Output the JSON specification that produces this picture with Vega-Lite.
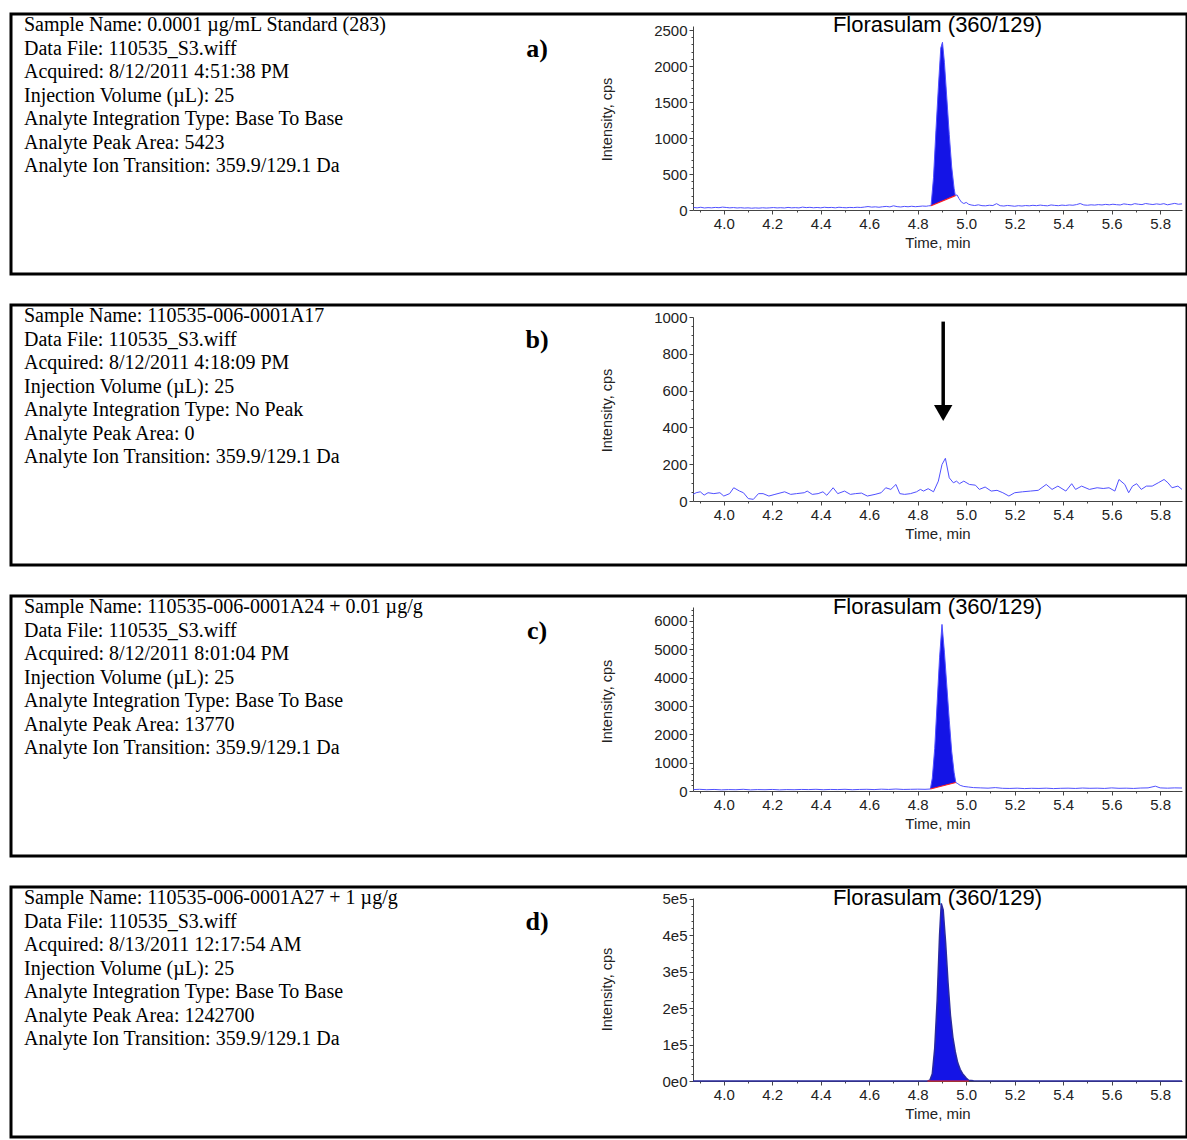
{
"$schema": "https://vega.github.io/schema/vega-lite/v6.json",
"padding": {"left": 9, "top": 12, "right": 1, "bottom": 0},
"background": "white",
"spacing": 27,
"config": {
  "view": {"stroke": "#000", "strokeWidth": 3},
  "axis": {"grid": false, "labelFont": "Liberation Sans", "labelFontSize": 15, "labelColor": "#222", "titleFont": "Liberation Sans", "titleFontSize": 15, "titleFontWeight": "normal", "titleColor": "#222", "domainColor": "#444", "tickColor": "#444", "labelPadding": 2, "labelFlush": false, "labelOverlap": false}
},
"datasets": {
  "txt": [
    {"p": "a", "kind": "info", "line": 1, "text": "Sample Name: 0.0001 µg/mL Standard (283)"},
    {"p": "a", "kind": "info", "line": 2, "text": "Data File: 110535_S3.wiff"},
    {"p": "a", "kind": "info", "line": 3, "text": "Acquired: 8/12/2011 4:51:38 PM"},
    {"p": "a", "kind": "info", "line": 4, "text": "Injection Volume (µL): 25"},
    {"p": "a", "kind": "info", "line": 5, "text": "Analyte Integration Type: Base To Base"},
    {"p": "a", "kind": "info", "line": 6, "text": "Analyte Peak Area: 5423"},
    {"p": "a", "kind": "info", "line": 7, "text": "Analyte Ion Transition: 359.9/129.1 Da"},
    {"p": "a", "kind": "label", "line": 2, "text": "a)"},
    {"p": "a", "kind": "title", "line": 1, "text": "Florasulam (360/129)"},
    {"p": "b", "kind": "info", "line": 1, "text": "Sample Name: 110535-006-0001A17"},
    {"p": "b", "kind": "info", "line": 2, "text": "Data File: 110535_S3.wiff"},
    {"p": "b", "kind": "info", "line": 3, "text": "Acquired: 8/12/2011 4:18:09 PM"},
    {"p": "b", "kind": "info", "line": 4, "text": "Injection Volume (µL): 25"},
    {"p": "b", "kind": "info", "line": 5, "text": "Analyte Integration Type: No Peak"},
    {"p": "b", "kind": "info", "line": 6, "text": "Analyte Peak Area: 0"},
    {"p": "b", "kind": "info", "line": 7, "text": "Analyte Ion Transition: 359.9/129.1 Da"},
    {"p": "b", "kind": "label", "line": 2, "text": "b)"},
    {"p": "c", "kind": "info", "line": 1, "text": "Sample Name: 110535-006-0001A24 + 0.01 µg/g"},
    {"p": "c", "kind": "info", "line": 2, "text": "Data File: 110535_S3.wiff"},
    {"p": "c", "kind": "info", "line": 3, "text": "Acquired: 8/12/2011 8:01:04 PM"},
    {"p": "c", "kind": "info", "line": 4, "text": "Injection Volume (µL): 25"},
    {"p": "c", "kind": "info", "line": 5, "text": "Analyte Integration Type: Base To Base"},
    {"p": "c", "kind": "info", "line": 6, "text": "Analyte Peak Area: 13770"},
    {"p": "c", "kind": "info", "line": 7, "text": "Analyte Ion Transition: 359.9/129.1 Da"},
    {"p": "c", "kind": "label", "line": 2, "text": "c)"},
    {"p": "c", "kind": "title", "line": 1, "text": "Florasulam (360/129)"},
    {"p": "d", "kind": "info", "line": 1, "text": "Sample Name: 110535-006-0001A27 + 1 µg/g"},
    {"p": "d", "kind": "info", "line": 2, "text": "Data File: 110535_S3.wiff"},
    {"p": "d", "kind": "info", "line": 3, "text": "Acquired: 8/13/2011 12:17:54 AM"},
    {"p": "d", "kind": "info", "line": 4, "text": "Injection Volume (µL): 25"},
    {"p": "d", "kind": "info", "line": 5, "text": "Analyte Integration Type: Base To Base"},
    {"p": "d", "kind": "info", "line": 6, "text": "Analyte Peak Area: 1242700"},
    {"p": "d", "kind": "info", "line": 7, "text": "Analyte Ion Transition: 359.9/129.1 Da"},
    {"p": "d", "kind": "label", "line": 2, "text": "d)"},
    {"p": "d", "kind": "title", "line": 1, "text": "Florasulam (360/129)"}
  ],
  "trace": [
    {"p":"a","t":3.875,"v":35},{"p":"a","t":3.89,"v":30},{"p":"a","t":3.905,"v":38},{"p":"a","t":3.92,"v":28},{"p":"a","t":3.935,"v":33},{"p":"a","t":3.95,"v":30},{"p":"a","t":3.965,"v":36},{"p":"a","t":3.98,"v":32},{"p":"a","t":3.995,"v":40},{"p":"a","t":4.01,"v":35},{"p":"a","t":4.025,"v":30},{"p":"a","t":4.04,"v":34},{"p":"a","t":4.055,"v":28},{"p":"a","t":4.07,"v":32},{"p":"a","t":4.085,"v":27},{"p":"a","t":4.1,"v":30},{"p":"a","t":4.115,"v":25},{"p":"a","t":4.13,"v":29},{"p":"a","t":4.145,"v":26},{"p":"a","t":4.16,"v":31},{"p":"a","t":4.175,"v":27},{"p":"a","t":4.19,"v":30},{"p":"a","t":4.205,"v":34},{"p":"a","t":4.22,"v":29},{"p":"a","t":4.235,"v":32},{"p":"a","t":4.25,"v":28},{"p":"a","t":4.265,"v":36},{"p":"a","t":4.28,"v":30},{"p":"a","t":4.295,"v":33},{"p":"a","t":4.31,"v":29},{"p":"a","t":4.325,"v":40},{"p":"a","t":4.34,"v":33},{"p":"a","t":4.355,"v":37},{"p":"a","t":4.37,"v":31},{"p":"a","t":4.385,"v":35},{"p":"a","t":4.4,"v":30},{"p":"a","t":4.415,"v":38},{"p":"a","t":4.43,"v":33},{"p":"a","t":4.445,"v":36},{"p":"a","t":4.46,"v":30},{"p":"a","t":4.475,"v":38},{"p":"a","t":4.49,"v":34},{"p":"a","t":4.505,"v":31},{"p":"a","t":4.52,"v":36},{"p":"a","t":4.535,"v":33},{"p":"a","t":4.55,"v":38},{"p":"a","t":4.565,"v":35},{"p":"a","t":4.58,"v":41},{"p":"a","t":4.595,"v":48},{"p":"a","t":4.61,"v":40},{"p":"a","t":4.625,"v":44},{"p":"a","t":4.64,"v":38},{"p":"a","t":4.655,"v":45},{"p":"a","t":4.67,"v":50},{"p":"a","t":4.685,"v":43},{"p":"a","t":4.7,"v":58},{"p":"a","t":4.715,"v":47},{"p":"a","t":4.73,"v":42},{"p":"a","t":4.745,"v":50},{"p":"a","t":4.76,"v":45},{"p":"a","t":4.775,"v":52},{"p":"a","t":4.79,"v":46},{"p":"a","t":4.805,"v":50},{"p":"a","t":4.82,"v":55},{"p":"a","t":4.835,"v":52},{"p":"a","t":4.845,"v":58},
    {"p":"a","t":4.855,"v":60,"base":60},{"p":"a","t":4.865,"v":450,"base":74},{"p":"a","t":4.875,"v":1100,"base":88},{"p":"a","t":4.885,"v":1700,"base":102},{"p":"a","t":4.895,"v":2250,"base":116},{"p":"a","t":4.902,"v":2330,"base":126},{"p":"a","t":4.91,"v":2050,"base":137},{"p":"a","t":4.92,"v":1550,"base":151},{"p":"a","t":4.93,"v":1050,"base":165},{"p":"a","t":4.94,"v":600,"base":179},{"p":"a","t":4.95,"v":300,"base":193},{"p":"a","t":4.955,"v":200,"base":200},
    {"p":"a","t":4.962,"v":210},{"p":"a","t":4.97,"v":160},{"p":"a","t":4.98,"v":110},{"p":"a","t":4.99,"v":90},{"p":"a","t":5.0,"v":105},{"p":"a","t":5.01,"v":80},{"p":"a","t":5.02,"v":70},{"p":"a","t":5.035,"v":62},{"p":"a","t":5.05,"v":72},{"p":"a","t":5.065,"v":60},{"p":"a","t":5.08,"v":58},{"p":"a","t":5.095,"v":66},{"p":"a","t":5.11,"v":62},{"p":"a","t":5.125,"v":88},{"p":"a","t":5.14,"v":60},{"p":"a","t":5.155,"v":55},{"p":"a","t":5.17,"v":63},{"p":"a","t":5.185,"v":58},{"p":"a","t":5.2,"v":52},{"p":"a","t":5.215,"v":60},{"p":"a","t":5.23,"v":55},{"p":"a","t":5.245,"v":62},{"p":"a","t":5.26,"v":58},{"p":"a","t":5.275,"v":65},{"p":"a","t":5.29,"v":60},{"p":"a","t":5.305,"v":68},{"p":"a","t":5.32,"v":62},{"p":"a","t":5.335,"v":58},{"p":"a","t":5.35,"v":70},{"p":"a","t":5.365,"v":64},{"p":"a","t":5.38,"v":60},{"p":"a","t":5.395,"v":68},{"p":"a","t":5.41,"v":63},{"p":"a","t":5.425,"v":70},{"p":"a","t":5.44,"v":66},{"p":"a","t":5.455,"v":75},{"p":"a","t":5.47,"v":90},{"p":"a","t":5.485,"v":70},{"p":"a","t":5.5,"v":66},{"p":"a","t":5.515,"v":72},{"p":"a","t":5.53,"v":68},{"p":"a","t":5.545,"v":75},{"p":"a","t":5.56,"v":70},{"p":"a","t":5.575,"v":78},{"p":"a","t":5.59,"v":72},{"p":"a","t":5.605,"v":80},{"p":"a","t":5.62,"v":74},{"p":"a","t":5.635,"v":70},{"p":"a","t":5.65,"v":85},{"p":"a","t":5.665,"v":78},{"p":"a","t":5.68,"v":72},{"p":"a","t":5.695,"v":88},{"p":"a","t":5.71,"v":80},{"p":"a","t":5.725,"v":75},{"p":"a","t":5.74,"v":90},{"p":"a","t":5.755,"v":82},{"p":"a","t":5.77,"v":76},{"p":"a","t":5.785,"v":85},{"p":"a","t":5.8,"v":78},{"p":"a","t":5.815,"v":88},{"p":"a","t":5.83,"v":72},{"p":"a","t":5.845,"v":82},{"p":"a","t":5.86,"v":92},{"p":"a","t":5.875,"v":80},{"p":"a","t":5.89,"v":85},

    {"p":"b","t":3.873,"v":36},{"p":"b","t":3.886,"v":45},{"p":"b","t":3.903,"v":50},{"p":"b","t":3.919,"v":32},{"p":"b","t":3.935,"v":45},{"p":"b","t":3.959,"v":40},{"p":"b","t":3.984,"v":45},{"p":"b","t":4.0,"v":27},{"p":"b","t":4.024,"v":40},{"p":"b","t":4.041,"v":72},{"p":"b","t":4.065,"v":54},{"p":"b","t":4.081,"v":45},{"p":"b","t":4.101,"v":13},{"p":"b","t":4.122,"v":9},{"p":"b","t":4.143,"v":40},{"p":"b","t":4.162,"v":40},{"p":"b","t":4.186,"v":27},{"p":"b","t":4.211,"v":36},{"p":"b","t":4.251,"v":50},{"p":"b","t":4.276,"v":36},{"p":"b","t":4.3,"v":40},{"p":"b","t":4.332,"v":45},{"p":"b","t":4.344,"v":54},{"p":"b","t":4.365,"v":36},{"p":"b","t":4.389,"v":40},{"p":"b","t":4.409,"v":50},{"p":"b","t":4.425,"v":31},{"p":"b","t":4.451,"v":72},{"p":"b","t":4.47,"v":40},{"p":"b","t":4.498,"v":54},{"p":"b","t":4.522,"v":36},{"p":"b","t":4.543,"v":40},{"p":"b","t":4.568,"v":43},{"p":"b","t":4.592,"v":27},{"p":"b","t":4.624,"v":36},{"p":"b","t":4.649,"v":45},{"p":"b","t":4.668,"v":72},{"p":"b","t":4.689,"v":63},{"p":"b","t":4.71,"v":90},{"p":"b","t":4.726,"v":40},{"p":"b","t":4.746,"v":36},{"p":"b","t":4.77,"v":40},{"p":"b","t":4.795,"v":50},{"p":"b","t":4.811,"v":63},{"p":"b","t":4.824,"v":54},{"p":"b","t":4.843,"v":67},{"p":"b","t":4.865,"v":50},{"p":"b","t":4.885,"v":108},{"p":"b","t":4.9,"v":198},{"p":"b","t":4.914,"v":232},{"p":"b","t":4.93,"v":126},{"p":"b","t":4.947,"v":99},{"p":"b","t":4.96,"v":108},{"p":"b","t":4.972,"v":94},{"p":"b","t":4.99,"v":108},{"p":"b","t":5.013,"v":90},{"p":"b","t":5.038,"v":86},{"p":"b","t":5.054,"v":63},{"p":"b","t":5.078,"v":76},{"p":"b","t":5.103,"v":54},{"p":"b","t":5.127,"v":58},{"p":"b","t":5.151,"v":45},{"p":"b","t":5.176,"v":27},{"p":"b","t":5.2,"v":45},{"p":"b","t":5.232,"v":50},{"p":"b","t":5.265,"v":54},{"p":"b","t":5.297,"v":58},{"p":"b","t":5.33,"v":90},{"p":"b","t":5.354,"v":63},{"p":"b","t":5.378,"v":81},{"p":"b","t":5.411,"v":54},{"p":"b","t":5.435,"v":94},{"p":"b","t":5.451,"v":63},{"p":"b","t":5.476,"v":81},{"p":"b","t":5.508,"v":63},{"p":"b","t":5.54,"v":72},{"p":"b","t":5.565,"v":68},{"p":"b","t":5.589,"v":72},{"p":"b","t":5.613,"v":54},{"p":"b","t":5.63,"v":117},{"p":"b","t":5.654,"v":90},{"p":"b","t":5.67,"v":45},{"p":"b","t":5.686,"v":81},{"p":"b","t":5.703,"v":94},{"p":"b","t":5.722,"v":63},{"p":"b","t":5.743,"v":81},{"p":"b","t":5.767,"v":81},{"p":"b","t":5.792,"v":99},{"p":"b","t":5.816,"v":117},{"p":"b","t":5.832,"v":99},{"p":"b","t":5.849,"v":72},{"p":"b","t":5.873,"v":81},{"p":"b","t":5.89,"v":63},

    {"p":"c","t":3.875,"v":50},{"p":"c","t":3.9,"v":60},{"p":"c","t":3.93,"v":45},{"p":"c","t":3.96,"v":55},{"p":"c","t":3.99,"v":40},{"p":"c","t":4.02,"v":50},{"p":"c","t":4.05,"v":45},{"p":"c","t":4.08,"v":60},{"p":"c","t":4.11,"v":40},{"p":"c","t":4.14,"v":50},{"p":"c","t":4.17,"v":45},{"p":"c","t":4.2,"v":55},{"p":"c","t":4.23,"v":40},{"p":"c","t":4.26,"v":50},{"p":"c","t":4.29,"v":45},{"p":"c","t":4.32,"v":55},{"p":"c","t":4.35,"v":50},{"p":"c","t":4.38,"v":60},{"p":"c","t":4.41,"v":45},{"p":"c","t":4.44,"v":55},{"p":"c","t":4.47,"v":50},{"p":"c","t":4.5,"v":60},{"p":"c","t":4.53,"v":45},{"p":"c","t":4.56,"v":55},{"p":"c","t":4.59,"v":60},{"p":"c","t":4.62,"v":50},{"p":"c","t":4.65,"v":65},{"p":"c","t":4.68,"v":55},{"p":"c","t":4.71,"v":70},{"p":"c","t":4.74,"v":55},{"p":"c","t":4.77,"v":60},{"p":"c","t":4.8,"v":65},{"p":"c","t":4.83,"v":60},
    {"p":"c","t":4.852,"v":70,"base":70},{"p":"c","t":4.86,"v":450,"base":88},{"p":"c","t":4.87,"v":1500,"base":109},{"p":"c","t":4.88,"v":3100,"base":131},{"p":"c","t":4.89,"v":4700,"base":153},{"p":"c","t":4.9,"v":5880,"base":175},{"p":"c","t":4.91,"v":4900,"base":197},{"p":"c","t":4.92,"v":3700,"base":219},{"p":"c","t":4.93,"v":2500,"base":241},{"p":"c","t":4.94,"v":1400,"base":263},{"p":"c","t":4.95,"v":650,"base":284},{"p":"c","t":4.957,"v":300,"base":300},
    {"p":"c","t":4.965,"v":260},{"p":"c","t":4.975,"v":200},{"p":"c","t":4.99,"v":160},{"p":"c","t":5.01,"v":140},{"p":"c","t":5.03,"v":120},{"p":"c","t":5.06,"v":110},{"p":"c","t":5.09,"v":100},{"p":"c","t":5.12,"v":120},{"p":"c","t":5.15,"v":95},{"p":"c","t":5.18,"v":90},{"p":"c","t":5.21,"v":100},{"p":"c","t":5.24,"v":85},{"p":"c","t":5.27,"v":95},{"p":"c","t":5.3,"v":90},{"p":"c","t":5.33,"v":100},{"p":"c","t":5.36,"v":85},{"p":"c","t":5.39,"v":95},{"p":"c","t":5.42,"v":100},{"p":"c","t":5.45,"v":90},{"p":"c","t":5.48,"v":105},{"p":"c","t":5.51,"v":95},{"p":"c","t":5.54,"v":100},{"p":"c","t":5.57,"v":90},{"p":"c","t":5.6,"v":110},{"p":"c","t":5.63,"v":95},{"p":"c","t":5.66,"v":100},{"p":"c","t":5.69,"v":90},{"p":"c","t":5.72,"v":105},{"p":"c","t":5.75,"v":110},{"p":"c","t":5.78,"v":170},{"p":"c","t":5.8,"v":110},{"p":"c","t":5.83,"v":100},{"p":"c","t":5.86,"v":110},{"p":"c","t":5.89,"v":105},

    {"p":"d","t":3.873,"v":0},{"p":"d","t":4.5,"v":0},{"p":"d","t":4.83,"v":100},
    {"p":"d","t":4.84,"v":200,"base":0},{"p":"d","t":4.85,"v":2000,"base":0},{"p":"d","t":4.86,"v":20000,"base":0},{"p":"d","t":4.87,"v":90000,"base":0},{"p":"d","t":4.88,"v":220000,"base":0},{"p":"d","t":4.89,"v":400000,"base":0},{"p":"d","t":4.897,"v":488000,"base":0},{"p":"d","t":4.905,"v":470000,"base":0},{"p":"d","t":4.915,"v":380000,"base":0},{"p":"d","t":4.925,"v":270000,"base":0},{"p":"d","t":4.935,"v":180000,"base":0},{"p":"d","t":4.945,"v":120000,"base":0},{"p":"d","t":4.955,"v":80000,"base":0},{"p":"d","t":4.965,"v":50000,"base":0},{"p":"d","t":4.975,"v":32000,"base":0},{"p":"d","t":4.985,"v":20000,"base":0},{"p":"d","t":5.0,"v":8000,"base":0},{"p":"d","t":5.01,"v":2000,"base":0},
    {"p":"d","t":5.03,"v":500},{"p":"d","t":5.2,"v":300},{"p":"d","t":5.89,"v":200}
  ],
  "bl": [
    {"p":"a","t":4.855,"v":60,"t2":4.955,"v2":200},
    {"p":"c","t":4.852,"v":70,"t2":4.957,"v2":300},
    {"p":"d","t":4.84,"v":0,"t2":5.01,"v2":0}
  ],
  "arrow": [{"p":"b","t":4.905,"v":975,"v2":505}],
  "head": [{"p":"b","t":4.905,"v":478}]
},
"vconcat": [
  {
    "width": 1176, "height": 260,
    "resolve": {"scale": {"x": "independent", "y": "independent"}},
    "layer": [
      {
        "data": {"name": "txt"},
        "transform": [{"filter": "datum.p == 'a'"}],
        "encoding": {
          "x": {"field": "kind", "type": "nominal", "scale": {"type": "point", "domain": ["info", "label", "title"], "range": [13, 1039], "padding": 0}, "axis": null},
          "y": {"field": "line", "type": "ordinal", "scale": {"type": "point", "domain": [1, 2, 3, 4, 5, 6, 7], "range": [11, 152], "padding": 0}, "axis": null},
          "text": {"field": "text", "type": "nominal"}
        },
        "layer": [
          {"transform": [{"filter": "datum.kind == 'info'"}], "mark": {"type": "text", "align": "left", "baseline": "middle", "font": "Liberation Serif", "fontSize": 20, "color": "#000"}},
          {"transform": [{"filter": "datum.kind == 'label'"}], "mark": {"type": "text", "align": "center", "baseline": "middle", "font": "Liberation Serif", "fontWeight": "bold", "fontSize": 26, "color": "#000"}},
          {"transform": [{"filter": "datum.kind == 'title'"}], "mark": {"type": "text", "align": "right", "baseline": "middle", "dx": -8, "font": "Liberation Sans", "fontSize": 22, "color": "#000"}}
        ]
      },
      {
        "encoding": {
          "x": {"field": "t", "type": "quantitative", "scale": {"domain": [3.873, 5.89], "range": [682, 1171], "nice": false, "zero": false},
                "axis": {"orient": "bottom", "offset": -64, "values": [3.9,4.0,4.1,4.2,4.3,4.4,4.5,4.6,4.7,4.8,4.9,5.0,5.1,5.2,5.3,5.4,5.5,5.6,5.7,5.8], "labelExpr": "round(datum.value*10) % 2 == 0 ? format(datum.value, '.1f') : ''", "tickSize": {"condition": {"test": "round(datum.value*10) % 2 == 0", "value": 4}, "value": 2}, "title": "Time, min", "titleY": 32, "titleBaseline": "middle"}},
          "y": {"field": "v", "type": "quantitative", "scale": {"domain": [0, 2556], "range": [196, 12], "nice": false, "zero": false},
                "axis": {"orient": "left", "offset": -682, "values": [0,100,200,300,400,500,600,700,800,900,1000,1100,1200,1300,1400,1500,1600,1700,1800,1900,2000,2100,2200,2300,2400,2500], "labelExpr": "datum.value % 500 == 0 ? format(datum.value, 'd') : ''", "tickSize": {"condition": {"test": "datum.value % 500 == 0", "value": 4}, "value": 2}, "title": "Intensity, cps", "titleX": -86, "titleY": 105, "titleAngle": -90, "titleAlign": "center", "titleBaseline": "middle", "titleFontSize": 14.5}}
        },
        "layer": [
          {"data": {"name": "trace"}, "transform": [{"filter": "datum.p == 'a' && isValid(datum.base)"}], "mark": {"type": "area", "color": "#1414e6", "opacity": 1, "clip": true}, "encoding": {"y2": {"field": "base"}}},
          {"data": {"name": "trace"}, "transform": [{"filter": "datum.p == 'a'"}], "mark": {"type": "line", "color": "#5050ff", "strokeWidth": 1, "clip": true}},
          {"data": {"name": "bl"}, "transform": [{"filter": "datum.p == 'a'"}], "mark": {"type": "rule", "color": "#ff2020", "strokeWidth": 1.2}, "encoding": {"x2": {"field": "t2"}, "y2": {"field": "v2"}}}
        ]
      }
    ]
  },
  {
    "width": 1176, "height": 260,
    "resolve": {"scale": {"x": "independent", "y": "independent"}},
    "layer": [
      {
        "data": {"name": "txt"},
        "transform": [{"filter": "datum.p == 'b'"}],
        "encoding": {
          "x": {"field": "kind", "type": "nominal", "scale": {"type": "point", "domain": ["info", "label", "title"], "range": [13, 1039], "padding": 0}, "axis": null},
          "y": {"field": "line", "type": "ordinal", "scale": {"type": "point", "domain": [1, 2, 3, 4, 5, 6, 7], "range": [11, 152], "padding": 0}, "axis": null},
          "text": {"field": "text", "type": "nominal"}
        },
        "layer": [
          {"transform": [{"filter": "datum.kind == 'info'"}], "mark": {"type": "text", "align": "left", "baseline": "middle", "font": "Liberation Serif", "fontSize": 20, "color": "#000"}},
          {"transform": [{"filter": "datum.kind == 'label'"}], "mark": {"type": "text", "align": "center", "baseline": "middle", "font": "Liberation Serif", "fontWeight": "bold", "fontSize": 26, "color": "#000"}}
        ]
      },
      {
        "encoding": {
          "x": {"field": "t", "type": "quantitative", "scale": {"domain": [3.873, 5.89], "range": [682, 1171], "nice": false, "zero": false},
                "axis": {"orient": "bottom", "offset": -64, "values": [3.9,4.0,4.1,4.2,4.3,4.4,4.5,4.6,4.7,4.8,4.9,5.0,5.1,5.2,5.3,5.4,5.5,5.6,5.7,5.8], "labelExpr": "round(datum.value*10) % 2 == 0 ? format(datum.value, '.1f') : ''", "tickSize": {"condition": {"test": "round(datum.value*10) % 2 == 0", "value": 4}, "value": 2}, "title": "Time, min", "titleY": 32, "titleBaseline": "middle"}},
          "y": {"field": "v", "type": "quantitative", "scale": {"domain": [0, 1000], "range": [196, 12], "nice": false, "zero": false},
                "axis": {"orient": "left", "offset": -682, "values": [0,50,100,150,200,250,300,350,400,450,500,550,600,650,700,750,800,850,900,950,1000], "labelExpr": "datum.value % 200 == 0 ? format(datum.value, 'd') : ''", "tickSize": {"condition": {"test": "datum.value % 200 == 0", "value": 4}, "value": 2}, "title": "Intensity, cps", "titleX": -86, "titleY": 105, "titleAngle": -90, "titleAlign": "center", "titleBaseline": "middle", "titleFontSize": 14.5}}
        },
        "layer": [
          {"data": {"name": "trace"}, "transform": [{"filter": "datum.p == 'b'"}], "mark": {"type": "line", "color": "#5050ff", "strokeWidth": 1, "clip": true}},
          {"data": {"name": "arrow"}, "mark": {"type": "rule", "color": "#000", "strokeWidth": 3.5}, "encoding": {"y2": {"field": "v2"}}},
          {"data": {"name": "head"}, "mark": {"type": "point", "shape": "triangle-down", "filled": true, "color": "#000", "opacity": 1, "size": 340}}
        ]
      }
    ]
  },
  {
    "width": 1176, "height": 260,
    "resolve": {"scale": {"x": "independent", "y": "independent"}},
    "layer": [
      {
        "data": {"name": "txt"},
        "transform": [{"filter": "datum.p == 'c'"}],
        "encoding": {
          "x": {"field": "kind", "type": "nominal", "scale": {"type": "point", "domain": ["info", "label", "title"], "range": [13, 1039], "padding": 0}, "axis": null},
          "y": {"field": "line", "type": "ordinal", "scale": {"type": "point", "domain": [1, 2, 3, 4, 5, 6, 7], "range": [11, 152], "padding": 0}, "axis": null},
          "text": {"field": "text", "type": "nominal"}
        },
        "layer": [
          {"transform": [{"filter": "datum.kind == 'info'"}], "mark": {"type": "text", "align": "left", "baseline": "middle", "font": "Liberation Serif", "fontSize": 20, "color": "#000"}},
          {"transform": [{"filter": "datum.kind == 'label'"}], "mark": {"type": "text", "align": "center", "baseline": "middle", "font": "Liberation Serif", "fontWeight": "bold", "fontSize": 26, "color": "#000"}},
          {"transform": [{"filter": "datum.kind == 'title'"}], "mark": {"type": "text", "align": "right", "baseline": "middle", "dx": -8, "font": "Liberation Sans", "fontSize": 22, "color": "#000"}}
        ]
      },
      {
        "encoding": {
          "x": {"field": "t", "type": "quantitative", "scale": {"domain": [3.873, 5.89], "range": [682, 1171], "nice": false, "zero": false},
                "axis": {"orient": "bottom", "offset": -65, "values": [3.9,4.0,4.1,4.2,4.3,4.4,4.5,4.6,4.7,4.8,4.9,5.0,5.1,5.2,5.3,5.4,5.5,5.6,5.7,5.8], "labelExpr": "round(datum.value*10) % 2 == 0 ? format(datum.value, '.1f') : ''", "tickSize": {"condition": {"test": "round(datum.value*10) % 2 == 0", "value": 4}, "value": 2}, "title": "Time, min", "titleY": 32, "titleBaseline": "middle"}},
          "y": {"field": "v", "type": "quantitative", "scale": {"domain": [0, 6494], "range": [195, 11], "nice": false, "zero": false},
                "axis": {"orient": "left", "offset": -682, "values": [0,200,400,600,800,1000,1200,1400,1600,1800,2000,2200,2400,2600,2800,3000,3200,3400,3600,3800,4000,4200,4400,4600,4800,5000,5200,5400,5600,5800,6000,6200,6400], "labelExpr": "datum.value % 1000 == 0 ? format(datum.value, 'd') : ''", "tickSize": {"condition": {"test": "datum.value % 1000 == 0", "value": 4}, "value": 2}, "title": "Intensity, cps", "titleX": -86, "titleY": 105, "titleAngle": -90, "titleAlign": "center", "titleBaseline": "middle", "titleFontSize": 14.5}}
        },
        "layer": [
          {"data": {"name": "trace"}, "transform": [{"filter": "datum.p == 'c' && isValid(datum.base)"}], "mark": {"type": "area", "color": "#1414e6", "opacity": 1, "clip": true}, "encoding": {"y2": {"field": "base"}}},
          {"data": {"name": "trace"}, "transform": [{"filter": "datum.p == 'c'"}], "mark": {"type": "line", "color": "#5050ff", "strokeWidth": 1, "clip": true}},
          {"data": {"name": "bl"}, "transform": [{"filter": "datum.p == 'c'"}], "mark": {"type": "rule", "color": "#ff2020", "strokeWidth": 1.2}, "encoding": {"x2": {"field": "t2"}, "y2": {"field": "v2"}}}
        ]
      }
    ]
  },
  {
    "width": 1176, "height": 250,
    "resolve": {"scale": {"x": "independent", "y": "independent"}},
    "layer": [
      {
        "data": {"name": "txt"},
        "transform": [{"filter": "datum.p == 'd'"}],
        "encoding": {
          "x": {"field": "kind", "type": "nominal", "scale": {"type": "point", "domain": ["info", "label", "title"], "range": [13, 1039], "padding": 0}, "axis": null},
          "y": {"field": "line", "type": "ordinal", "scale": {"type": "point", "domain": [1, 2, 3, 4, 5, 6, 7], "range": [11, 152], "padding": 0}, "axis": null},
          "text": {"field": "text", "type": "nominal"}
        },
        "layer": [
          {"transform": [{"filter": "datum.kind == 'info'"}], "mark": {"type": "text", "align": "left", "baseline": "middle", "font": "Liberation Serif", "fontSize": 20, "color": "#000"}},
          {"transform": [{"filter": "datum.kind == 'label'"}], "mark": {"type": "text", "align": "center", "baseline": "middle", "font": "Liberation Serif", "fontWeight": "bold", "fontSize": 26, "color": "#000"}},
          {"transform": [{"filter": "datum.kind == 'title'"}], "mark": {"type": "text", "align": "right", "baseline": "middle", "dx": -8, "font": "Liberation Sans", "fontSize": 22, "color": "#000"}}
        ]
      },
      {
        "encoding": {
          "x": {"field": "t", "type": "quantitative", "scale": {"domain": [3.873, 5.89], "range": [682, 1171], "nice": false, "zero": false},
                "axis": {"orient": "bottom", "offset": -56, "values": [3.9,4.0,4.1,4.2,4.3,4.4,4.5,4.6,4.7,4.8,4.9,5.0,5.1,5.2,5.3,5.4,5.5,5.6,5.7,5.8], "labelExpr": "round(datum.value*10) % 2 == 0 ? format(datum.value, '.1f') : ''", "tickSize": {"condition": {"test": "round(datum.value*10) % 2 == 0", "value": 4}, "value": 2}, "title": "Time, min", "titleY": 32, "titleBaseline": "middle"}},
          "y": {"field": "v", "type": "quantitative", "scale": {"domain": [0, 502700], "range": [194, 11], "nice": false, "zero": false},
                "axis": {"orient": "left", "offset": -682, "values": [0,20000,40000,60000,80000,100000,120000,140000,160000,180000,200000,220000,240000,260000,280000,300000,320000,340000,360000,380000,400000,420000,440000,460000,480000,500000], "labelExpr": "datum.value % 100000 == 0 ? replace(format(datum.value, '.0e'), '+', '') : ''", "tickSize": {"condition": {"test": "datum.value % 100000 == 0", "value": 4}, "value": 2}, "title": "Intensity, cps", "titleX": -86, "titleY": 102, "titleAngle": -90, "titleAlign": "center", "titleBaseline": "middle", "titleFontSize": 14.5}}
        },
        "layer": [
          {"data": {"name": "trace"}, "transform": [{"filter": "datum.p == 'd' && isValid(datum.base)"}], "mark": {"type": "area", "color": "#1414e6", "opacity": 1, "clip": true}, "encoding": {"y2": {"field": "base"}}},
          {"data": {"name": "trace"}, "transform": [{"filter": "datum.p == 'd'"}], "mark": {"type": "line", "color": "#2a2aa0", "strokeWidth": 1.5, "clip": true}},
          {"data": {"name": "bl"}, "transform": [{"filter": "datum.p == 'd'"}], "mark": {"type": "rule", "color": "#ff2020", "strokeWidth": 1.2}, "encoding": {"x2": {"field": "t2"}, "y2": {"field": "v2"}}}
        ]
      }
    ]
  }
]
}
